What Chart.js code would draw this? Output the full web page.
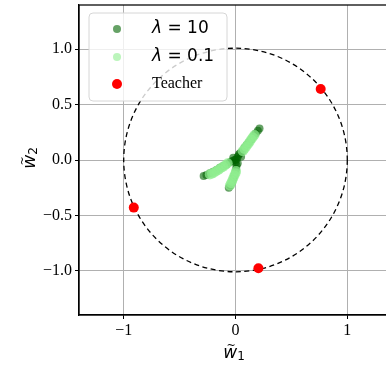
<!DOCTYPE html>
<html><head><meta charset="utf-8">
<script src="https://cdn.jsdelivr.net/npm/chart.js@4"></script>
<style>html,body{margin:0;padding:0;background:#fff;overflow:hidden}#wrap{width:400px;height:366px}</style>
</head><body><div id="wrap"><canvas id="c" width="400" height="366"></canvas></div>
<script>
const seriesLabels = ['λ = 10', 'λ = 0.1', 'Teacher'];
const xTicks = [-1, 0, 1];
const xTickLabels = ['\u22121', '0', '1'];
const yTicks = [-1, -0.5, 0, 0.5, 1];
const yTickLabels = ['\u22121.0', '\u22120.5', '0.0', '0.5', '1.0'];
const axisMin = -1.4, axisMax = 1.4;
const circleRadius = 1;

const lam10X = [0, 0.01, -0.01, 0.02, 0.03, 0.04, 0.05, -0.03, 0.0, 0.02, -0.02,
  0.06, 0.08, 0.1, 0.12, 0.14, 0.16, 0.18, 0.2, 0.215,
  -0.05, -0.08, -0.11, -0.14, -0.17, -0.2, -0.23, -0.26, -0.285,
  0.01, 0.005, 0.0, -0.01, -0.02, -0.03, -0.045, -0.06];
const lam10Y = [0, 0.01, 0.0, 0.03, 0.05, 0.06, 0.03, -0.01, -0.02, -0.03, 0.02,
  0.08, 0.11, 0.135, 0.16, 0.185, 0.215, 0.24, 0.265, 0.285,
  -0.02, -0.04, -0.055, -0.07, -0.09, -0.105, -0.12, -0.135, -0.145,
  -0.05, -0.08, -0.11, -0.14, -0.17, -0.2, -0.23, -0.25];

const lam01X = [0.065, 0.08, 0.095, 0.11, 0.125, 0.14, 0.155, 0.17,
  -0.07, -0.09, -0.11, -0.13, -0.15, -0.17, -0.19, -0.21, -0.23,
  0.005, 0.0, -0.01, -0.02, -0.03, -0.04, -0.05];
const lam01Y = [0.08, 0.1, 0.12, 0.14, 0.16, 0.185, 0.205, 0.225,
  -0.03, -0.045, -0.06, -0.072, -0.087, -0.1, -0.113, -0.123, -0.13,
  -0.1, -0.12, -0.14, -0.165, -0.19, -0.21, -0.23];

const teacherX = [0.762, -0.91, 0.205];
const teacherY = [0.642, -0.43, -0.978];

const toPts = (xs, ys) => xs.map((x, i) => ({x: x, y: ys[i]}));

const colors = ['rgba(0,100,0,0.6)', 'rgba(144,238,144,0.72)', 'rgb(255,0,0)'];
const legendColors = ['rgba(0,100,0,0.6)', 'rgba(144,238,144,0.6)', 'rgb(255,0,0)'];

const circlePlugin = {
  id: 'circle',
  beforeDatasetsDraw(chart) {
    const {ctx, scales: {x, y}} = chart;
    const cx = x.getPixelForValue(0), cy = y.getPixelForValue(0);
    const r = x.getPixelForValue(circleRadius) - cx;
    ctx.save();
    ctx.strokeStyle = '#000';
    ctx.lineWidth = 1.3;
    ctx.setLineDash([5, 3.5]);
    ctx.beginPath();
    ctx.arc(cx, cy, r, 0, Math.PI * 2);
    ctx.stroke();
    ctx.restore();
  }
};

const framePlugin = {
  id: 'frame',
  afterDraw(chart) {
    const {ctx, chartArea: a} = chart;
    ctx.save();
    ctx.strokeStyle = '#000';
    ctx.lineWidth = 1.25;
    ctx.strokeRect(a.left, a.top, a.right - a.left, a.bottom - a.top);
    // legend
    const lx = 89, ly = 13, lw = 138, lh = 88, rr = 4;
    ctx.beginPath();
    ctx.moveTo(lx + rr, ly);
    ctx.arcTo(lx + lw, ly, lx + lw, ly + lh, rr);
    ctx.arcTo(lx + lw, ly + lh, lx, ly + lh, rr);
    ctx.arcTo(lx, ly + lh, lx, ly, rr);
    ctx.arcTo(lx, ly, lx + lw, ly, rr);
    ctx.closePath();
    ctx.fillStyle = 'rgba(255,255,255,0.8)';
    ctx.fill();
    ctx.strokeStyle = '#d6d6d6';
    ctx.lineWidth = 1;
    ctx.stroke();
    const rows = [29, 57, 84];
    const radii = [4, 4, 5];
    chart.data.datasets.forEach((ds, i) => {
      ctx.beginPath();
      ctx.arc(117, rows[i], radii[i], 0, Math.PI * 2);
      ctx.fillStyle = legendColors[i];
      ctx.fill();
      ctx.fillStyle = '#000';
      ctx.textBaseline = 'middle';
      ctx.textAlign = 'left';
      const lab = ds.label;
      if (lab.startsWith('λ')) {
        ctx.font = 'italic 17px "DejaVu Sans"';
        ctx.fillText('λ', 152, rows[i]);
        const w = ctx.measureText('λ').width;
        ctx.font = '17px "DejaVu Sans"';
        ctx.fillText(lab.slice(1), 152 + w, rows[i]);
      } else {
        ctx.font = '16px "Liberation Serif"';
        ctx.fillText(lab, 152, rows[i]);
      }
    });
    // axis titles
    ctx.fillStyle = '#000';
    ctx.textBaseline = 'alphabetic';
    const drawTitle = (sub) => {
      ctx.font = 'italic 17px "DejaVu Sans"';
      const W = ctx.measureText('w').width;
      ctx.font = '12px "DejaVu Sans"';
      const S = ctx.measureText(sub).width;
      const x0 = -(W + S) / 2;
      ctx.textAlign = 'left';
      ctx.font = 'italic 17px "DejaVu Sans"';
      ctx.fillText('w', x0, 0);
      ctx.textAlign = 'center';
      ctx.font = '11px "DejaVu Sans"';
      ctx.fillText('~', x0 + W / 2 + 1, -9);
      ctx.textAlign = 'left';
      ctx.font = '12px "DejaVu Sans"';
      ctx.fillText(sub, x0 + W, 2);
    };
    ctx.save();
    ctx.translate(234, 358);
    drawTitle('1');
    ctx.restore();
    ctx.save();
    ctx.translate(35, 158);
    ctx.rotate(-Math.PI / 2);
    drawTitle('2');
    ctx.restore();
    ctx.restore();
  }
};

const tickFont = {family: '"Liberation Serif"', size: 16};
const noPad = (s) => { s.paddingTop = 0; s.paddingBottom = 0; s.paddingLeft = 0; s.paddingRight = 0; };

new Chart(document.getElementById('c'), {
  type: 'scatter',
  data: {
    datasets: [
      {label: seriesLabels[0], data: toPts(lam10X, lam10Y), backgroundColor: colors[0], borderWidth: 0, pointRadius: 4, order: 3},
      {label: seriesLabels[1], data: toPts(lam01X, lam01Y), backgroundColor: colors[1], borderWidth: 0, pointRadius: 5, order: 2},
      {label: seriesLabels[2], data: toPts(teacherX, teacherY), backgroundColor: colors[2], borderWidth: 0, pointRadius: 5, order: 1}
    ]
  },
  options: {
    responsive: false,
    animation: false,
    events: [],
    layout: {padding: {top: 3, right: 8, left: 0, bottom: 0}},
    plugins: {legend: {display: false}, tooltip: {enabled: false}},
    scales: {
      x: {
        type: 'linear', min: axisMin, max: axisMax,
        afterBuildTicks: (ax) => { ax.ticks = xTicks.map(v => ({value: v})); },
        afterFit: (s) => { s.height = 51; noPad(s); },
        ticks: {font: tickFont, color: '#000', padding: 2, maxRotation: 0,
          callback: (v) => xTickLabels[xTicks.indexOf(v)]},
        grid: {color: '#b0b0b0', lineWidth: 1, tickColor: '#000', tickLength: 4},
        border: {color: '#000', width: 1.25}
      },
      y: {
        type: 'linear', min: axisMin, max: axisMax,
        afterBuildTicks: (ax) => { ax.ticks = yTicks.map(v => ({value: v})); },
        afterFit: (s) => { s.width = 79; noPad(s); },
        ticks: {font: tickFont, color: '#000', padding: 3,
          callback: (v) => yTickLabels[yTicks.indexOf(v)]},
        grid: {color: '#b0b0b0', lineWidth: 1, tickColor: '#000', tickLength: 4},
        border: {color: '#000', width: 1.25}
      }
    }
  },
  plugins: [circlePlugin, framePlugin]
});
</script></body></html>
